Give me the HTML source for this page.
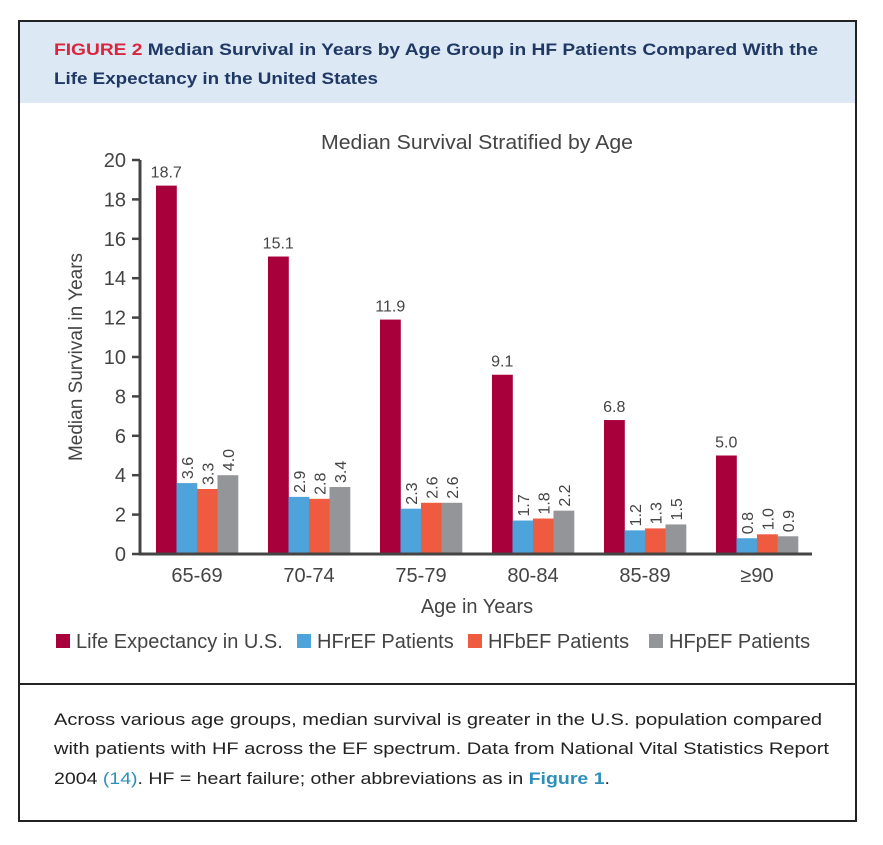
<!DOCTYPE html>
<html><head><meta charset="utf-8"><style>
html,body{margin:0;padding:0;background:#fff;}
svg{display:block;font-family:"Liberation Sans",sans-serif;}
</style></head><body>
<svg id="s" width="883" height="845" viewBox="0 0 883 845">
<rect x="19" y="21" width="837" height="800" fill="#fff" stroke="#222" stroke-width="2"/>
<rect x="20" y="22" width="835" height="81" fill="#dde8f5"/>
<text x="54" y="55" font-size="17" font-weight="bold" textLength="764" lengthAdjust="spacingAndGlyphs"><tspan fill="#d7263d">FIGURE 2</tspan><tspan fill="#1f3864">  Median Survival in Years by Age Group in HF Patients Compared With the</tspan></text>
<text x="54" y="84" font-size="17" font-weight="bold" fill="#1f3864" textLength="324" lengthAdjust="spacingAndGlyphs">Life Expectancy in the United States</text>
<text x="477" y="149" font-size="20" fill="#444" text-anchor="middle" textLength="312" lengthAdjust="spacingAndGlyphs">Median Survival Stratified by Age</text>
<text transform="translate(82,357) rotate(-90)" font-size="19" fill="#444" text-anchor="middle">Median Survival in Years</text>
<text x="477" y="613" font-size="20" fill="#444" text-anchor="middle">Age in Years</text>
<g id="plot"></g>
<g id="legend"></g>
<line x1="20" y1="684" x2="855" y2="684" stroke="#222" stroke-width="2"/>
<text x="54" y="725" font-size="17" fill="#222" textLength="768" lengthAdjust="spacingAndGlyphs">Across various age groups, median survival is greater in the U.S. population compared</text>
<text x="54" y="754" font-size="17" fill="#222" textLength="775" lengthAdjust="spacingAndGlyphs">with patients with HF across the EF spectrum. Data from National Vital Statistics Report</text>
<text x="54" y="784" font-size="17" fill="#222" textLength="556" lengthAdjust="spacingAndGlyphs">2004 <tspan fill="#2e8fb8">(14)</tspan>. HF = heart failure; other abbreviations as in <tspan fill="#2e8fb8" font-weight="bold">Figure 1</tspan>.</text>
</svg>
<script>
const categories=["65-69","70-74","75-79","80-84","85-89","≥90"];
const lifeExp=[18.7,15.1,11.9,9.1,6.8,5.0];
const hfref=[3.6,2.9,2.3,1.7,1.2,0.8];
const hfbef=[3.3,2.8,2.6,1.8,1.3,1.0];
const hfpef=[4.0,3.4,2.6,2.2,1.5,0.9];
const yTicks=[0,2,4,6,8,10,12,14,16,18,20];
const seriesNames=["Life Expectancy in U.S.","HFrEF Patients","HFbEF Patients","HFpEF Patients"];

const NS="http://www.w3.org/2000/svg";
const colors=["#a8003a","#4fa3db","#ef5b40","#939598"];
const x0=140,y0=554,yTop=160,gw=112,bw=20.5;
const y=v=>y0-(v/20)*(y0-yTop);
const gx=i=>x0+gw*i;
const plot=document.getElementById('plot');
function mk(t,a,p){const e=document.createElementNS(NS,t);for(const k in a)e.setAttribute(k,a[k]);(p||plot).appendChild(e);return e;}
yTicks.forEach(t=>{
  const tl=mk('line',{x1:x0-8,x2:x0,y1:y(t),y2:y(t),stroke:'#444','stroke-width':2.5});
  
  
  const tx=mk('text',{x:x0-14,y:y(t)+7,'font-size':20,fill:'#444','text-anchor':'end'});
  tx.textContent=t;
  
  
});
const series=[lifeExp,hfref,hfbef,hfpef];
categories.forEach((c,i)=>{
  series.forEach((s,j)=>{
    const bx=gx(i)+16+j*bw;
    const r=mk('rect',{x:bx,y:y(s[i]),width:bw+0.3,height:y0-y(s[i]),fill:colors[j]});
    
    
    const lab=s[i].toFixed(1);
    let t;
    if(j===0){
      t=mk('text',{x:bx+bw/2,y:y(s[i])-8,'font-size':16,fill:'#444','text-anchor':'middle'});
    }else{
      t=mk('text',{transform:`translate(${bx+bw/2+6},${y(s[i])-4}) rotate(-90)`,'font-size':16,fill:'#444'});
    }
    t.textContent=lab;
    
    
  });
  const cl=mk('text',{x:gx(i)+57,y:582,'font-size':20,fill:'#444','text-anchor':'middle'});
  cl.textContent=c;
  
  
});
const ax=mk('path',{d:`M${x0},${yTop} V${y0} H${x0+gw*6}`,fill:'none',stroke:'#444','stroke-width':3});


const lg=document.getElementById('legend');
const lx=[56,297,468,649];
seriesNames.forEach((n,j)=>{
  const g=mk('g',{},lg);
  
  
  mk('rect',{x:lx[j],y:634,width:14,height:14,fill:colors[j]},g);
  const t=mk('text',{x:lx[j]+20,y:648,'font-size':20,fill:'#444'},g);
  t.textContent=n;
});
</script>
</body></html>
